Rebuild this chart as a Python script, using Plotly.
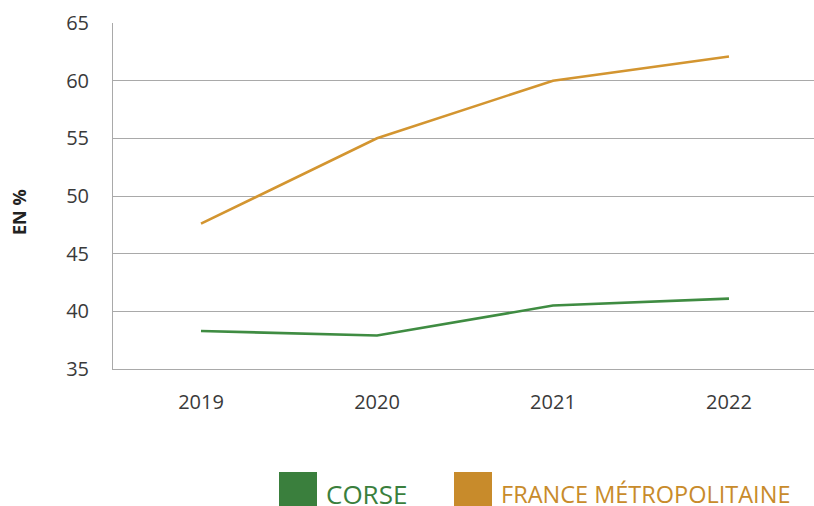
import plotly.graph_objects as go

years = ["2019", "2020", "2021", "2022"]
corse = [38.3, 37.9, 40.5, 41.1]
france = [47.6, 55.0, 60.0, 62.1]
y_ticks = [35, 40, 45, 50, 55, 60, 65]
series_names = ["CORSE", "FRANCE MÉTROPOLITAINE"]

GREEN_LINE = "#3f8c42"
GOLD_LINE = "#d39530"
GREEN_LEG = "#3a7f3d"
GOLD_LEG = "#c88b2b"
GRID = "#a9a9a9"
TICK = "#3a3a3a"

W, H = 814, 506
PLOT_L, PLOT_T, PLOT_R, PLOT_B = 113, 23, 814, 369  # pixels

fig = go.Figure()
fig.add_trace(go.Scatter(x=years, y=corse, mode="lines", name=series_names[0],
                         line=dict(color=GREEN_LINE, width=2.6), showlegend=False))
fig.add_trace(go.Scatter(x=years, y=france, mode="lines", name=series_names[1],
                         line=dict(color=GOLD_LINE, width=2.6), showlegend=False))

fig.update_layout(
    width=W, height=H,
    margin=dict(l=PLOT_L, r=W - PLOT_R, t=PLOT_T, b=H - PLOT_B, pad=0),
    plot_bgcolor="white", paper_bgcolor="white",
    xaxis=dict(type="category", range=[-0.5, 3.483], showgrid=False,
               showline=True, linecolor=GRID, linewidth=1,
               ticks="", ticklabelstandoff=15,
               tickfont=dict(family="Open Sans", size=20, color=TICK)),
    yaxis=dict(range=[35, 65], tickvals=y_ticks, showgrid=True, gridcolor=GRID,
               gridwidth=1, showline=True, linecolor=GRID, linewidth=1,
               zeroline=False, ticks="", ticklabelstandoff=19,
               tickfont=dict(family="Open Sans", size=20, color=TICK)),
    showlegend=False,
)

PW = PLOT_R - PLOT_L
PH = PLOT_B - PLOT_T


def px_x(px):
    return (px - PLOT_L) / PW


def px_y(py):
    return (PLOT_B - py) / PH


# Y axis title
fig.add_annotation(text="<b>EN %</b>", textangle=-90, x=px_x(19), y=px_y(212),
                   xref="paper", yref="paper", showarrow=False,
                   xanchor="center", yanchor="middle",
                   font=dict(family="Open Sans", size=18, color="#222222"))

# Custom legend (large squares)
fig.add_shape(type="rect", xref="paper", yref="paper",
              x0=px_x(279), x1=px_x(317), y0=px_y(506), y1=px_y(472),
              fillcolor=GREEN_LEG, line=dict(width=0))
fig.add_shape(type="rect", xref="paper", yref="paper",
              x0=px_x(454), x1=px_x(492), y0=px_y(506), y1=px_y(472),
              fillcolor=GOLD_LEG, line=dict(width=0))
fig.add_annotation(text=series_names[0], xref="paper", yref="paper",
                   x=px_x(324), y=px_y(494), xanchor="left", yanchor="middle",
                   showarrow=False,
                   font=dict(family="Open Sans", size=26, color=GREEN_LEG))
fig.add_annotation(text=series_names[1], xref="paper", yref="paper",
                   x=px_x(499), y=px_y(494), xanchor="left", yanchor="middle",
                   showarrow=False,
                   font=dict(family="Open Sans", size=23.5, color=GOLD_LEG))

# Remove the page's default body margin so the figure fills the window.
fig.write_html(
    "out.html",
    config={"displayModeBar": False},
    post_script="document.body.style.margin='0';"
                "document.documentElement.style.overflow='hidden';"
                "document.body.style.overflow='hidden';",
)
